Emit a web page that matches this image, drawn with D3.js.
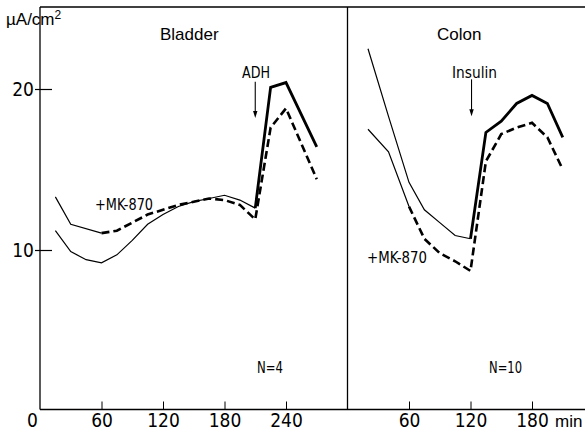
<!DOCTYPE html>
<html>
<head>
<meta charset="utf-8">
<script src="https://cdn.jsdelivr.net/npm/d3@7"></script>
<style>
  body { margin: 0; background: #fff; }
  svg { display: block; }
  .tick text { font-family: "Liberation Sans Narrow", "DejaVu Sans Condensed", "Liberation Sans", sans-serif; font-size: 19px; fill: #000; }
  .cond { font-family: "Liberation Sans Narrow", "DejaVu Sans Condensed", "Liberation Sans", sans-serif; }
  .reg { font-family: "Liberation Sans", Arial, sans-serif; }
</style>
</head>
<body>
<div id="chart"></div>
<script>
// bladder: [min, µA/cm2]
let bladderCtrlThin = [[15,11.2],[30,9.9],[45,9.4],[60,9.2],[75,9.7],[90,10.6],[105,11.6],[120,12.2],[135,12.7],[150,13.0],[165,13.2],[180,13.4],[195,13.1],[210,12.6]]
let bladderCtrlThick = [[210,12.6],[225,20.1],[240,20.4],[270,16.4]]
let bladderMkThin = [[15,13.3],[30,11.6],[60,11.05]]
let bladderMkDash = [[60,11.05],[75,11.2],[90,11.7],[105,12.2],[120,12.5],[135,12.8],[150,13.0],[165,13.2],[180,13.1],[195,12.8],[210,11.9],[225,17.6],[240,18.8],[270,14.4]]

// colon
let colonCtrlThin = [[20,22.5],[40,18.3],[60,14.2],[75,12.5],[90,11.7],[105,10.9],[120,10.7]]
let colonCtrlThick = [[120,10.7],[135,17.3],[150,18.0],[165,19.1],[180,19.6],[195,19.1],[210,17.0]]
let colonMkThin = [[20,17.5],[40,16.1],[60,12.7]]
let colonMkDash = [[60,12.7],[75,10.7],[90,9.8],[105,9.3],[120,8.7],[135,15.5],[150,17.2],[165,17.6],[180,17.9],[195,17.0],[210,15.0]]

let bladderTicks = [0,60,120,180,240]
let colonTicks = [60,120,180]
let yTicks = [10,20]

var svg = d3.select("#chart").append('svg')
    .attr('width', 585)
    .attr('height', 431)

let y = d3.scaleLinear().domain([0,20]).range([411,89])
let xB = d3.scaleLinear().domain([0,240]).range([40,286])
let xC = d3.scaleLinear().domain([0,180]).range([347.5,532])

// frame
let frame = svg.append('g').attr('stroke','#000').attr('stroke-width',1.3)
frame.append('line').attr('x1',40).attr('x2',585).attr('y1',7).attr('y2',7)
frame.append('line').attr('x1',40).attr('x2',40).attr('y1',7).attr('y2',409.5)
frame.append('line').attr('x1',347.5).attr('x2',347.5).attr('y1',7).attr('y2',409.5)
frame.append('line').attr('x1',40).attr('x2',585).attr('y1',409.5).attr('y2',409.5)

// axes
let gy = svg.append('g').attr('transform','translate(40,0)')
    .call(d3.axisLeft(y).tickValues(yTicks).tickSize(-12).tickPadding(6))
gy.select('.domain').remove()
gy.selectAll('.tick line').attr('x1',-5).attr('stroke-width',1.2)
gy.selectAll('.tick text').attr('dy','0.36em')

let gxB = svg.append('g').attr('transform','translate(0,409.5)')
    .call(d3.axisBottom(xB).tickValues(bladderTicks).tickSize(-8).tickPadding(5))
let gxC = svg.append('g').attr('transform','translate(0,409.5)')
    .call(d3.axisBottom(xC).tickValues(colonTicks).tickSize(-8).tickPadding(5))
;[gxB, gxC].forEach(g => {
  g.select('.domain').remove()
  g.selectAll('.tick text').attr('y',4).attr('dy','0.71em')
})
gxB.selectAll('.tick').filter(d => d === 0).select('line').remove()
gxB.selectAll('.tick').filter(d => d === 0).select('text').attr('dx', -8)

svg.append('text').attr('class','reg')
    .attr('x', 555).attr('y', 427)
    .attr('font-size', 17)
    .text('min')

// curves
let line = (xs) => d3.line().x(d => xs(d[0])).y(d => y(d[1]))

let series = [
  {data: bladderCtrlThin, x: xB, w: 1.2, dash: null},
  {data: bladderCtrlThick, x: xB, w: 2.8, dash: null},
  {data: bladderMkThin, x: xB, w: 1.2, dash: null},
  {data: bladderMkDash, x: xB, w: 2.6, dash: '8,4'},
  {data: colonCtrlThin, x: xC, w: 1.2, dash: null},
  {data: colonCtrlThick, x: xC, w: 2.8, dash: null},
  {data: colonMkThin, x: xC, w: 1.2, dash: null},
  {data: colonMkDash, x: xC, w: 2.6, dash: '8,4'}
]

svg.append('g')
    .selectAll('path')
    .data(series)
    .enter().append('path')
    .attr('fill','none')
    .attr('stroke','#000')
    .attr('stroke-linejoin','miter')
    .attr('stroke-width', d => d.w)
    .attr('stroke-dasharray', d => d.dash)
    .attr('d', d => line(d.x)(d.data))

// arrows for additions
let arrows = [
  {x: xB, t: 210, from: 20.45, to: 18.2, label: 'ADH', lx: 242, lw: 28},
  {x: xC, t: 121, from: 20.6, to: 18.3, label: 'Insulin', lx: 452, lw: 45}
]
arrows.forEach(a => {
  let px = a.x(a.t)
  svg.append('line')
      .attr('x1',px).attr('x2',px)
      .attr('y1',y(a.from)).attr('y2',y(a.to)-5)
      .attr('stroke','#000').attr('stroke-width',1.1)
  svg.append('path')
      .attr('d', `M${px-2.2},${y(a.to)-7} L${px},${y(a.to)} L${px+2.2},${y(a.to)-7} Z`)
      .attr('fill','#000')
  svg.append('text').attr('class','cond')
      .attr('x', a.lx).attr('y', 78)
      .attr('font-size', 15)
      .attr('textLength', a.lw).attr('lengthAdjust','spacingAndGlyphs')
      .text(a.label)
})

// titles and labels
let labels = [
  {text: 'Bladder', x: 160, y: 40, size: 17, cls: 'reg'},
  {text: 'Colon', x: 437, y: 40, size: 17, cls: 'reg'},
  {text: '+MK-870', x: 95, y: 210, size: 15, cls: 'cond', w: 58},
  {text: '+MK-870', x: 367, y: 263, size: 15, cls: 'cond', w: 60},
  {text: 'N=4', x: 257, y: 373, size: 15, cls: 'cond', w: 26},
  {text: 'N=10', x: 489, y: 373, size: 15, cls: 'cond', w: 33}
]
labels.forEach(l => {
  let t = svg.append('text').attr('class', l.cls)
      .attr('x', l.x).attr('y', l.y)
      .attr('font-size', l.size)
      .text(l.text)
  if (l.w) t.attr('textLength', l.w).attr('lengthAdjust','spacingAndGlyphs')
})

// unit
let unit = svg.append('text').attr('class','reg')
    .attr('x', 6).attr('y', 25)
    .attr('font-size', 17)
unit.append('tspan').text('\u00b5A/cm')
unit.append('tspan').attr('font-size', 12).attr('dy', -6).text('2')
</script>
</body>
</html>
